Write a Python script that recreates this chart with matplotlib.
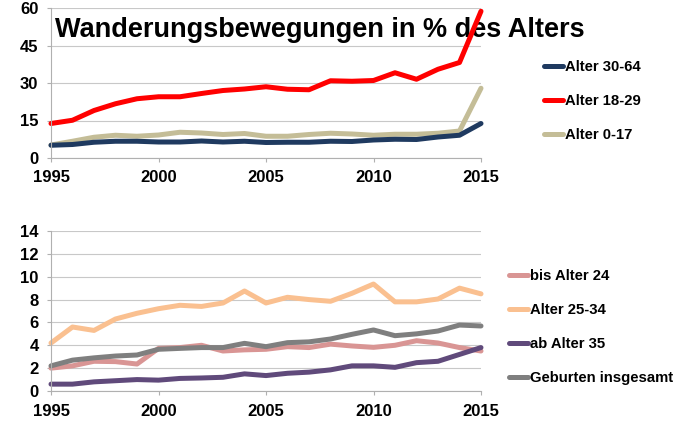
import matplotlib.pyplot as plt
import numpy as np

plt.rcParams['font.family'] = ['Liberation Sans', 'DejaVu Sans']

jahre = list(range(1995, 2016))

# oben: Wanderungsbewegungen
alter_30_64 = [5.1, 5.4, 6.3, 6.7, 6.7, 6.4, 6.4, 6.8, 6.4, 6.7, 6.2,
               6.3, 6.3, 6.7, 6.6, 7.2, 7.5, 7.4, 8.4, 9.1, 13.8]
alter_18_29 = [13.8, 15.1, 19.0, 21.7, 23.7, 24.5, 24.5, 25.8, 27.0, 27.6, 28.5,
               27.5, 27.3, 30.9, 30.7, 31.0, 34.1, 31.5, 35.5, 38.2, 58.7]
alter_0_17 = [5.2, 6.7, 8.3, 9.1, 8.7, 9.2, 10.3, 10.0, 9.4, 9.8, 8.7,
              8.7, 9.4, 9.9, 9.6, 9.1, 9.5, 9.5, 9.9, 10.8, 27.9]

# unten
bis_24 = [2.0, 2.2, 2.6, 2.57, 2.36, 3.73, 3.8, 4.0, 3.5, 3.6, 3.65,
          3.88, 3.8, 4.1, 3.94, 3.82, 4.0, 4.4, 4.2, 3.8, 3.5]
alter_25_34 = [4.2, 5.6, 5.3, 6.3, 6.8, 7.2, 7.5, 7.4, 7.7, 8.75, 7.7,
               8.2, 8.0, 7.85, 8.55, 9.36, 7.8, 7.8, 8.05, 9.0, 8.5]
ab_35 = [0.6, 0.6, 0.8, 0.9, 1.0, 0.95, 1.1, 1.14, 1.2, 1.5, 1.35,
         1.55, 1.65, 1.85, 2.2, 2.2, 2.07, 2.48, 2.6, 3.2, 3.8]
geburten = [2.2, 2.7, 2.9, 3.06, 3.15, 3.65, 3.73, 3.8, 3.8, 4.17, 3.88,
            4.23, 4.3, 4.55, 4.96, 5.34, 4.84, 5.0, 5.25, 5.77, 5.69]

W, H = 695, 422
fig = plt.figure(figsize=(6.95, 4.22), dpi=100)
ax1 = fig.add_axes([51/W, 1-158/H, 430/W, 150/H])
ax2 = fig.add_axes([51/W, 1-391/H, 430/W, 160/H])

lw = 3.6
ax1.plot(jahre, alter_0_17, color='#C4BD97', lw=lw, label='Alter 0-17', solid_capstyle='round')
ax1.plot(jahre, alter_30_64, color='#1F3A60', lw=lw, label='Alter 30-64', solid_capstyle='round')
ax1.plot(jahre, alter_18_29, color='#FF0000', lw=lw, label='Alter 18-29', solid_capstyle='round')

ax2.plot(jahre, bis_24, color='#D99594', lw=lw, label='bis Alter 24', solid_capstyle='round')
ax2.plot(jahre, alter_25_34, color='#FAC090', lw=lw, label='Alter 25-34', solid_capstyle='round')
ax2.plot(jahre, ab_35, color='#604A7B', lw=lw, label='ab Alter 35', solid_capstyle='round')
ax2.plot(jahre, geburten, color='#7F7F7F', lw=lw, label='Geburten insgesamt', solid_capstyle='round')

for ax, ymax, step in [(ax1, 60, 15), (ax2, 14, 2)]:
    ax.set_xlim(1995, 2015)
    ax.set_ylim(0, ymax)
    ax.set_xticks([1995, 2000, 2005, 2010, 2015])
    ax.set_yticks(np.arange(0, ymax + 1, step))
    ax.grid(axis='y', color='#C8C8C8', lw=0.8)
    ax.set_axisbelow(True)
    for s in ['top', 'right']:
        ax.spines[s].set_visible(False)
    for s in ['left', 'bottom']:
        ax.spines[s].set_color('#B0B0B0')
        ax.spines[s].set_linewidth(0.8)
    ax.tick_params(length=3, color='#B0B0B0', labelsize=12)
    ax.tick_params(axis='x', pad=6)
    ax.tick_params(axis='y', pad=6)
    for lab in ax.get_xticklabels() + ax.get_yticklabels():
        lab.set_fontweight('bold')
    for ln in ax.lines:
        ln.set_clip_on(False)

# titel liegt unter den linien (rote linie geht durch "des")
ax1.text(55/W, 1-37/H, 'Wanderungsbewegungen in % des Alters', transform=fig.transFigure,
         fontsize=19.5, fontweight='bold', va='baseline', ha='left', zorder=1.5, clip_on=False)

# legenden: handles/labels in der reihenfolge der vorlage
h1, l1 = ax1.get_legend_handles_labels()
order = [1, 2, 0]
ax1.legend([h1[i] for i in order], [l1[i] for i in order],
           loc='center left', bbox_to_anchor=(544/W, 1-101/H), bbox_transform=fig.transFigure,
           frameon=False, prop={'weight': 'bold', 'size': 10.7}, handlelength=1.3,
           handletextpad=0.1, labelspacing=1.35, borderpad=0, borderaxespad=0)
ax2.legend(loc='center left', bbox_to_anchor=(509/W, 1-327/H), bbox_transform=fig.transFigure,
           frameon=False, prop={'weight': 'bold', 'size': 10.7}, handlelength=1.3,
           handletextpad=0.1, labelspacing=1.35, borderpad=0, borderaxespad=0)

fig.savefig('out.png', dpi=100)
